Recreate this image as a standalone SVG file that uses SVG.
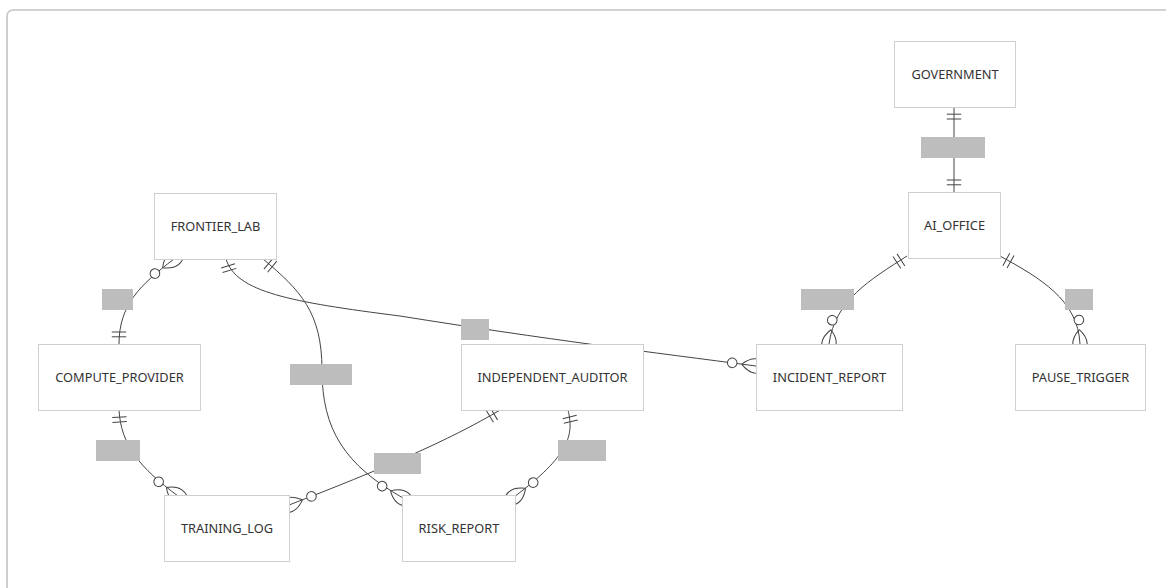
<svg xmlns="http://www.w3.org/2000/svg" width="1166" height="588" viewBox="0 0 1166 588">
<style>
.frame{fill:none;stroke:#c4c4c4;stroke-width:1.6}
.node rect{fill:#fff;stroke:#cfcfcf;stroke-width:1}
.node text{font-family:"Noto Sans","Open Sans","Liberation Sans",sans-serif;font-size:12.8px;fill:#333;text-anchor:middle}
.edge{fill:none;stroke:#444;stroke-width:1}
.one{marker-start:url(#oneStart)}
.oneEnd{marker-end:url(#oneEnd)}
.many{marker-end:url(#manyEnd)}
.lbl{fill:#bdbdbd}
.mk{fill:none;stroke:#444;stroke-width:1.25}
.mkc{fill:#fff;stroke:#444;stroke-width:1.25}
</style>
<defs>
<marker id="oneStart" viewBox="0 0 18 18" refX="0" refY="9" markerWidth="14.4" markerHeight="14.4" markerUnits="userSpaceOnUse" orient="auto" overflow="visible">
<path class="mk" d="M9,0 L9,18 M15,0 L15,18"/>
</marker>
<marker id="oneEnd" viewBox="0 0 18 18" refX="18" refY="9" markerWidth="14.4" markerHeight="14.4" markerUnits="userSpaceOnUse" orient="auto" overflow="visible">
<path class="mk" d="M3,0 L3,18 M9,0 L9,18"/>
</marker>
<marker id="manyEnd" viewBox="0 0 57 36" refX="39" refY="18" markerWidth="45.6" markerHeight="28.8" markerUnits="userSpaceOnUse" orient="auto" overflow="visible">
<circle class="mkc" cx="9" cy="18" r="6"/>
<path class="mk" d="M21,18 Q39,0 57,18 Q39,36 21,18"/>
</marker>
</defs>
<rect class="frame" x="7" y="10" width="1220" height="640" rx="6"/>
<g id="connectors">
<path class="edge one oneEnd" d="M954,107 L954,192"/>
<path class="edge one many" d="M119,344 C119,305 140,285 174,259"/>
<path class="edge one many" d="M226,259 C236,292 290,302 400,316 C550,340 650,352 756,366"/>
<path class="edge one many" d="M263,259 C300,290 322,312 322,370 C322,430 345,465 403,498"/>
<path class="edge one many" d="M119,410 C121,445 140,468 178,496"/>
<path class="edge one many" d="M500,410 C450,440 380,470 289,505"/>
<path class="edge one many" d="M568,410 C574,435 570,455 514,497"/>
<path class="edge one many" d="M907,256 C870,280 835,300 829,344"/>
<path class="edge one many" d="M1000,256 C1040,278 1078,300 1080,344"/>
<rect class="lbl" x="921" y="137" width="64" height="21"/>
<rect class="lbl" x="102" y="289" width="31" height="21"/>
<rect class="lbl" x="290" y="364" width="62" height="21"/>
<rect class="lbl" x="461" y="319" width="28" height="21"/>
<rect class="lbl" x="374" y="453" width="47" height="21"/>
<rect class="lbl" x="558" y="440" width="48" height="21"/>
<rect class="lbl" x="96" y="440" width="44" height="21"/>
<rect class="lbl" x="801" y="289" width="53" height="21"/>
<rect class="lbl" x="1065" y="289" width="28" height="21"/>
</g>
<g id="GOVERNMENT" class="node"><rect x="894.5" y="41.5" width="121" height="66"/><text x="955" y="79">GOVERNMENT</text></g>
<g id="AI_OFFICE" class="node"><rect x="908.5" y="192.5" width="92" height="66"/><text x="954.5" y="230">AI_OFFICE</text></g>
<g id="FRONTIER_LAB" class="node"><rect x="154.5" y="193.5" width="122" height="66"/><text x="215.5" y="231">FRONTIER_LAB</text></g>
<g id="COMPUTE_PROVIDER" class="node"><rect x="38.5" y="344.5" width="162" height="66"/><text x="119.5" y="382">COMPUTE_PROVIDER</text></g>
<g id="INDEPENDENT_AUDITOR" class="node"><rect x="461.5" y="344.5" width="182" height="66"/><text x="552.5" y="382">INDEPENDENT_AUDITOR</text></g>
<g id="INCIDENT_REPORT" class="node"><rect x="756.5" y="344.5" width="146" height="66"/><text x="829.5" y="382">INCIDENT_REPORT</text></g>
<g id="PAUSE_TRIGGER" class="node"><rect x="1015.5" y="344.5" width="130" height="66"/><text x="1080.5" y="382">PAUSE_TRIGGER</text></g>
<g id="TRAINING_LOG" class="node"><rect x="164.5" y="495.5" width="125" height="66"/><text x="227" y="533">TRAINING_LOG</text></g>
<g id="RISK_REPORT" class="node"><rect x="402.5" y="495.5" width="113" height="66"/><text x="459" y="533">RISK_REPORT</text></g>
</svg>
